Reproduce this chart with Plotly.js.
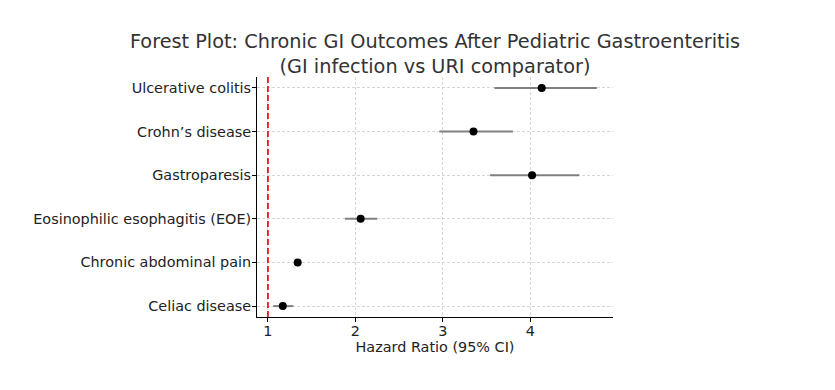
<!DOCTYPE html>
<html>
<head>
<meta charset="utf-8">
<script src="https://cdn.plot.ly/plotly-3.0.1.min.js"></script>
<style>html,body{margin:0;padding:0;background:#fff;}#chart{width:835px;height:390px;}</style>
</head>
<body>
<div id="chart"></div>
<script>
// Outcomes listed top to bottom
const outcomes = ["Ulcerative colitis", "Crohn’s disease", "Gastroparesis", "Eosinophilic esophagitis (EOE)", "Chronic abdominal pain", "Celiac disease"];
const hazardRatio = [4.13, 3.35, 4.02, 2.06, 1.34, 1.17];
const ciLower = [3.59, 2.96, 3.54, 1.88, 1.30, 1.06];
const ciUpper = [4.76, 3.80, 4.56, 2.25, 1.38, 1.29];
const referenceHR = 1;

const errPlus = hazardRatio.map((v, i) => ciUpper[i] - v);
const errMinus = hazardRatio.map((v, i) => v - ciLower[i]);

const trace = {
  type: 'scatter',
  mode: 'markers',
  x: hazardRatio,
  y: outcomes,
  marker: {color: '#000000', size: 8},
  error_x: {type: 'data', symmetric: false, array: errPlus, arrayminus: errMinus,
            color: '#808080', thickness: 2, width: 0},
  hoverinfo: 'x+y',
  showlegend: false
};

const font = 'DejaVu Sans, sans-serif';
const layout = {
  width: 835, height: 390,
  margin: {l: 257, r: 222, t: 77, b: 73},
  paper_bgcolor: '#ffffff', plot_bgcolor: '#ffffff',
  title: {text: 'Forest Plot: Chronic GI Outcomes After Pediatric Gastroenteritis<br>(GI infection vs URI comparator)',
          font: {family: font, size: 19.3, color: '#333333'},
          x: 0.5, xref: 'paper', xanchor: 'center', y: 0.877, yref: 'container', yanchor: 'top'},
  xaxis: {
    range: [0.875, 4.945],
    tickvals: [1, 2, 3, 4],
    ticks: 'outside', ticklen: 4, tickcolor: '#000', tickwidth: 1,
    ticklabelstandoff: -3,
    tickfont: {family: font, size: 14.4, color: '#222'},
    showline: true, linecolor: '#000', linewidth: 1,
    showgrid: true, gridcolor: '#cccccc', griddash: '3px,2px', gridwidth: 0.8,
    zeroline: false,
    title: {text: 'Hazard Ratio (95% CI)', font: {family: font, size: 14.4, color: '#222'}, standoff: 1}
  },
  yaxis: {
    type: 'category',
    categoryorder: 'array', categoryarray: outcomes.slice().reverse(),
    range: [-0.25, 5.25],
    ticks: 'outside', ticklen: 4, tickcolor: '#000', tickwidth: 1,
    ticklabelstandoff: -2,
    tickfont: {family: font, size: 14.4, color: '#222'},
    showline: true, linecolor: '#000', linewidth: 1,
    showgrid: true, gridcolor: '#cccccc', griddash: '3px,2px', gridwidth: 0.8,
    zeroline: false
  },
  shapes: [{type: 'line', xref: 'x', yref: 'paper', x0: referenceHR, x1: referenceHR, y0: 0, y1: 1,
            line: {color: '#e31a1c', width: 1.8, dash: '6px,3px'}}]
};

Plotly.newPlot('chart', [trace], layout, {displayModeBar: false, staticPlot: true});
</script>
</body>
</html>
